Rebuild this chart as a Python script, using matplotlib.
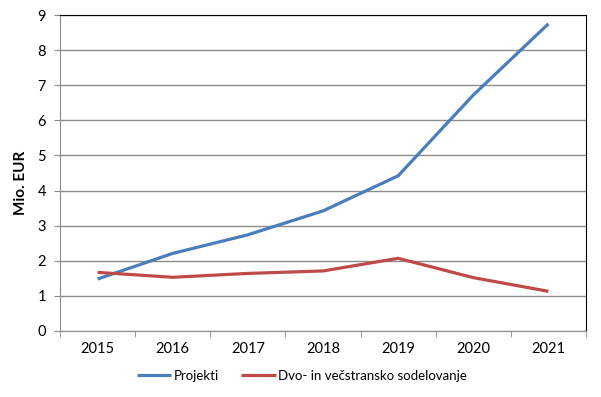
import matplotlib
matplotlib.use("Agg")
import matplotlib.pyplot as plt
import numpy as np

years = ["2015", "2016", "2017", "2018", "2019", "2020", "2021"]
projekti = [1.48, 2.21, 2.74, 3.42, 4.42, 6.72, 8.75]
dvo = [1.67, 1.53, 1.64, 1.71, 2.07, 1.52, 1.13]
series_names = ["Projekti", "Dvo- in večstransko sodelovanje"]
colors = ["#4A7EBB", "#BE4B48"]

plt.rcParams['font.family'] = ['Lato', 'DejaVu Sans']

fig = plt.figure(figsize=(6.01, 3.97), dpi=100)
ax = fig.add_axes([60/601, (397-331)/397, (586-60)/601, (331-15)/397])

x = np.arange(len(years))
ax.plot(x, projekti, color=colors[0], lw=2.3, label=series_names[0], solid_capstyle='butt')
ax.plot(x, dvo, color=colors[1], lw=2.3, label=series_names[1], solid_capstyle='butt')

ax.set_xlim(-0.5, len(years) - 0.5)
ax.set_ylim(0, 9)
ax.set_yticks(range(0, 10))
ax.yaxis.grid(True, color="#8C8C8C", lw=1)
ax.set_axisbelow(True)

ax.set_xticks(x)
ax.set_xticklabels(years, fontsize=10.5)
ax.set_xticks(np.arange(-0.5, len(years) + 0.5, 1), minor=True)
ax.tick_params(axis='x', which='major', length=0, pad=8)
ax.tick_params(axis='x', which='minor', length=4, color="#8C8C8C", direction='out')
ax.tick_params(axis='y', length=4, color="#8C8C8C", labelsize=10.5, pad=6)

for s in ['left', 'bottom']:
    ax.spines[s].set_color("#8C8C8C")
for s in ['top', 'right']:
    ax.spines[s].set_color("black")

fig.text(21/601, 1 - 183/397, "Mio. EUR", rotation=90, fontsize=11, fontweight='bold',
         ha='center', va='center')

fig.legend(loc='center', bbox_to_anchor=(302/601, 1 - 376/397), ncol=2, frameon=False,
           fontsize=9.5, handlelength=2.6, handletextpad=0.2, columnspacing=1.7)

fig.savefig("out.png", dpi=100)
